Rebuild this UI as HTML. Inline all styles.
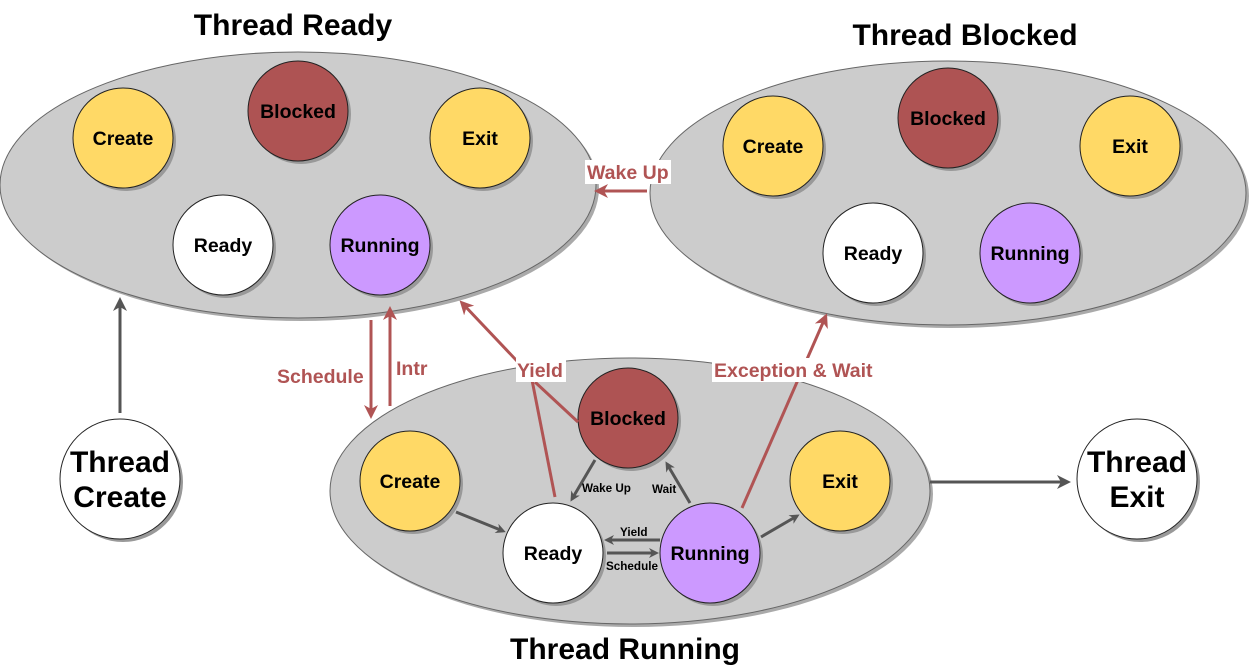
<!DOCTYPE html>
<html><head><meta charset="utf-8"><style>
html,body{margin:0;padding:0;background:#fff;}
svg{display:block;font-family:"Liberation Sans",Arial,sans-serif;font-weight:bold;}
</style></head><body>
<svg width="1250" height="667" viewBox="0 0 1250 667" xmlns="http://www.w3.org/2000/svg">
<defs>
<marker id="ag" markerWidth="10" markerHeight="10" refX="7" refY="5" orient="auto" markerUnits="userSpaceOnUse" viewBox="0 0 10 10"><path d="M0,0 L10,5 L0,10 L3,5 Z" fill="#555"/></marker>
<marker id="ar" markerWidth="14" markerHeight="14" refX="9" refY="7" orient="auto" markerUnits="userSpaceOnUse" viewBox="0 0 14 14"><path d="M0,0 L14,7 L0,14 L4,7 Z" fill="#B05454"/></marker>
<marker id="agb" markerWidth="14" markerHeight="14" refX="9" refY="7" orient="auto" markerUnits="userSpaceOnUse" viewBox="0 0 14 14"><path d="M0,0 L14,7 L0,14 L4,7 Z" fill="#555"/></marker>
</defs>
<ellipse cx="301" cy="188" rx="298" ry="133" fill="#aaa"/>
<ellipse cx="298" cy="185" rx="298" ry="133" fill="#ccc" stroke="#666" stroke-width="1"/>
<ellipse cx="951" cy="196" rx="298" ry="132" fill="#aaa"/>
<ellipse cx="948" cy="193" rx="298" ry="132" fill="#ccc" stroke="#666" stroke-width="1"/>
<ellipse cx="633" cy="494" rx="300" ry="133" fill="#aaa"/>
<ellipse cx="630" cy="491" rx="300" ry="133" fill="#ccc" stroke="#666" stroke-width="1"/>
<g stroke="#222" stroke-width="1">
<circle cx="126" cy="141" r="50" fill="#999" stroke="none"/><circle cx="123" cy="138" r="50" fill="#FFD966"/>
<circle cx="301" cy="114" r="50" fill="#999" stroke="none"/><circle cx="298" cy="111" r="50" fill="#AE5353"/>
<circle cx="483" cy="141" r="50" fill="#999" stroke="none"/><circle cx="480" cy="138" r="50" fill="#FFD966"/>
<circle cx="226" cy="248" r="50" fill="#999" stroke="none"/><circle cx="223" cy="245" r="50" fill="#fff"/>
<circle cx="383" cy="248" r="50" fill="#999" stroke="none"/><circle cx="380" cy="245" r="50" fill="#CC99FF"/>
<circle cx="776" cy="149" r="50" fill="#999" stroke="none"/><circle cx="773" cy="146" r="50" fill="#FFD966"/>
<circle cx="951" cy="121" r="50" fill="#999" stroke="none"/><circle cx="948" cy="118" r="50" fill="#AE5353"/>
<circle cx="1133" cy="149" r="50" fill="#999" stroke="none"/><circle cx="1130" cy="146" r="50" fill="#FFD966"/>
<circle cx="876" cy="256" r="50" fill="#999" stroke="none"/><circle cx="873" cy="253" r="50" fill="#fff"/>
<circle cx="1033" cy="256" r="50" fill="#999" stroke="none"/><circle cx="1030" cy="253" r="50" fill="#CC99FF"/>
<circle cx="413" cy="484" r="50" fill="#999" stroke="none"/><circle cx="410" cy="481" r="50" fill="#FFD966"/>
<circle cx="631" cy="421" r="50" fill="#999" stroke="none"/><circle cx="628" cy="418" r="50" fill="#AE5353"/>
<circle cx="843" cy="484" r="50" fill="#999" stroke="none"/><circle cx="840" cy="481" r="50" fill="#FFD966"/>
<circle cx="556" cy="556" r="50" fill="#999" stroke="none"/><circle cx="553" cy="553" r="50" fill="#fff"/>
<circle cx="713" cy="556" r="50" fill="#999" stroke="none"/><circle cx="710" cy="553" r="50" fill="#CC99FF"/>
<circle cx="123" cy="482" r="60" fill="#999" stroke="none"/><circle cx="120" cy="479" r="60" fill="#fff"/>
<circle cx="1140" cy="482" r="60" fill="#999" stroke="none"/><circle cx="1137" cy="479" r="60" fill="#fff"/>
</g>
<g font-size="19.5" text-anchor="middle" fill="#000">
<text x="123" y="145">Create</text><text x="298" y="118">Blocked</text><text x="480" y="145">Exit</text><text x="223" y="252">Ready</text><text x="380" y="252">Running</text>
<text x="773" y="153">Create</text><text x="948" y="125">Blocked</text><text x="1130" y="153">Exit</text><text x="873" y="260">Ready</text><text x="1030" y="260">Running</text>
<text x="410" y="488">Create</text><text x="628" y="425">Blocked</text><text x="840" y="488">Exit</text><text x="553" y="560">Ready</text><text x="710" y="560">Running</text>
</g>
<g font-size="30" text-anchor="middle" fill="#000">
<text x="120" y="472">Thread</text><text x="120" y="507">Create</text>
<text x="1137" y="472">Thread</text><text x="1137" y="507">Exit</text>
<text x="293" y="35">Thread Ready</text>
<text x="965" y="45">Thread Blocked</text>
<text x="625" y="659">Thread Running</text>
</g>
<g stroke="#555" stroke-width="3" fill="none">
<line x1="120" y1="413" x2="120" y2="302" marker-end="url(#agb)"/>
<line x1="930" y1="482" x2="1066" y2="482" marker-end="url(#agb)"/>
<line x1="456" y1="512" x2="503" y2="531" marker-end="url(#ag)"/>
<line x1="595" y1="460" x2="572" y2="499" marker-end="url(#ag)"/>
<line x1="690" y1="503" x2="667" y2="464" marker-end="url(#ag)"/>
<line x1="660" y1="540" x2="607" y2="540" marker-end="url(#ag)"/>
<line x1="607" y1="553" x2="656" y2="553" marker-end="url(#ag)"/>
<line x1="761" y1="537" x2="797" y2="516" marker-end="url(#ag)"/>
</g>
<g font-size="11.7" fill="#000">
<text x="582" y="492">Wake Up</text><text x="652" y="493">Wait</text>
<text x="620" y="536">Yield</text><text x="606" y="570">Schedule</text>
</g>
<g stroke="#B05454" stroke-width="3" fill="none">
<line x1="371" y1="320" x2="371" y2="414" marker-end="url(#ar)"/>
<line x1="390" y1="406" x2="390" y2="311" marker-end="url(#ar)"/>
<line x1="555" y1="497" x2="532" y2="380"/>
<line x1="578" y1="422" x2="535" y2="382"/>
<line x1="535" y1="380" x2="463" y2="304" marker-end="url(#ar)"/>
<line x1="742" y1="508" x2="825" y2="318" marker-end="url(#ar)"/>
<line x1="647" y1="191" x2="599" y2="191" marker-end="url(#ar)"/>
</g>
<g font-size="19.5" fill="#B05454">
<rect x="516" y="358" width="50" height="24" fill="#fff"/>
<text x="517" y="377">Yield</text>
<rect x="712" y="358" width="166" height="24" fill="#fff"/>
<text x="714" y="377">Exception &amp; Wait</text>
<rect x="585" y="160" width="86" height="24" fill="#fff"/>
<text x="587" y="179">Wake Up</text>
<text x="277" y="383">Schedule</text>
<text x="396" y="375">Intr</text>
</g>
</svg>
</body></html>
